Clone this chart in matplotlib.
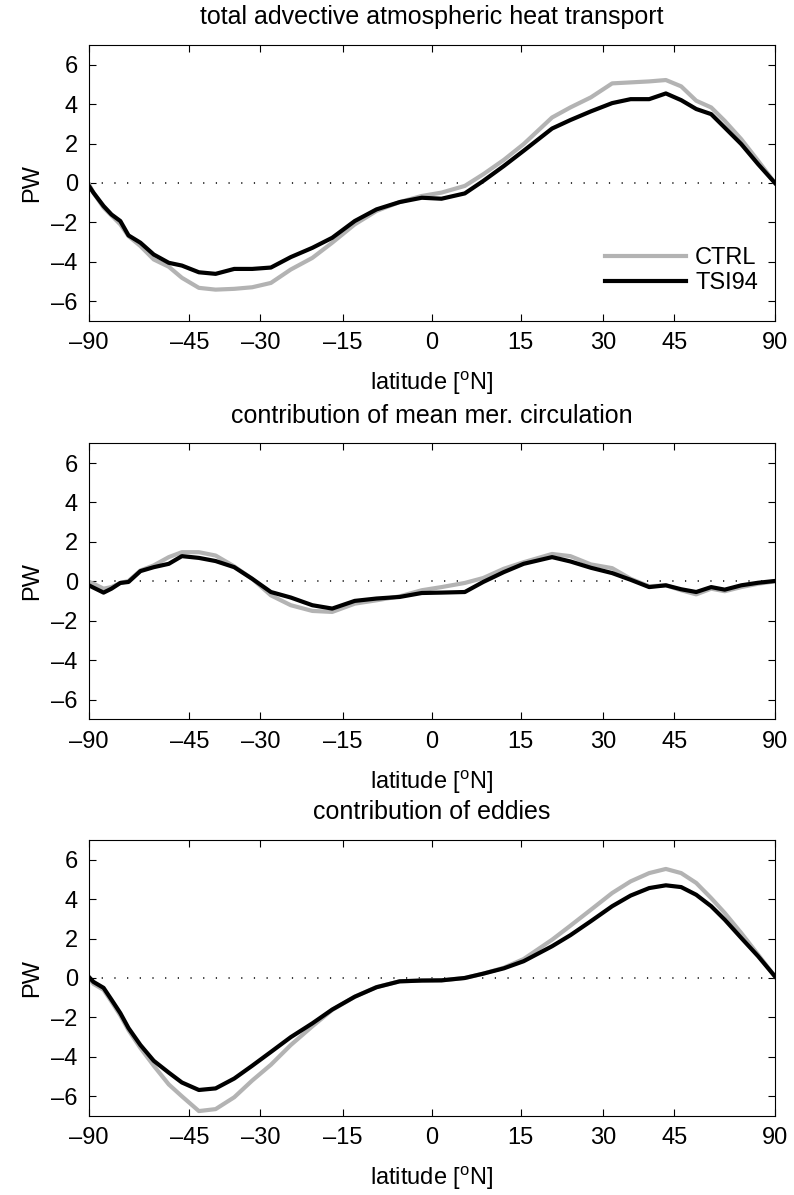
import numpy as np
import matplotlib
matplotlib.use('Agg')
import matplotlib.pyplot as plt

plt.rcParams['font.family'] = ['Liberation Sans', 'DejaVu Sans']
plt.rcParams['mathtext.fontset'] = 'custom'
plt.rcParams['mathtext.rm'] = 'Liberation Sans'
plt.rcParams['font.size'] = 17

# latitude points (deg N)
lat = [-90, -80.6, -73.2, -69.1, -65.3, -62.2, -58.2, -54.2, -50.1, -46.8,
       -42.8, -39.1, -35.2, -31.6, -28.0, -24.3, -20.4, -16.9, -13.0, -9.3,
       -5.4, -1.7, 1.6, 5.5, 8.6, 12.1, 15.5, 20.5, 23.8, 27.6,
       31.7, 35.4, 39.3, 43.0, 46.6, 50.4, 54.5, 58.6, 64.4, 72.0, 90]

# total advective heat transport (PW)
total_ctrl = [-0.07, -0.5, -1.25, -1.65, -2.1, -2.7, -3.2, -3.88, -4.25, -4.81,
              -5.32, -5.41, -5.37, -5.29, -5.07, -4.39, -3.8, -3.03, -2.1, -1.42,
              -0.97, -0.66, -0.49, -0.15, 0.44, 1.17, 1.97, 3.32, 3.83, 4.34,
              5.05, 5.10, 5.15, 5.22, 4.9, 4.17, 3.83, 3.15, 2.22, 1.12, 0.0]
total_tsi = [-0.15, -0.5, -1.17, -1.6, -1.93, -2.66, -3.03, -3.63, -4.05, -4.19,
             -4.53, -4.61, -4.36, -4.36, -4.29, -3.76, -3.29, -2.78, -1.93, -1.34,
             -0.97, -0.75, -0.80, -0.53, 0.1, 0.86, 1.63, 2.76, 3.19, 3.63,
             4.05, 4.25, 4.25, 4.54, 4.2, 3.75, 3.49, 2.81, 1.97, 0.95, 0.0]

# mean meridional circulation
mmc_ctrl = [-0.03, -0.12, -0.37, -0.29, -0.08, 0.02, 0.55, 0.81, 1.23, 1.48,
            1.48, 1.31, 0.76, 0.13, -0.71, -1.21, -1.5, -1.55, -1.13, -0.96,
            -0.76, -0.45, -0.29, -0.08, 0.17, 0.64, 0.97, 1.39, 1.28, 0.86,
            0.67, 0.13, -0.25, -0.2, -0.45, -0.66, -0.37, -0.5, -0.29, -0.12, 0.0]
mmc_tsi = [-0.2, -0.32, -0.57, -0.37, -0.08, -0.03, 0.52, 0.72, 0.89, 1.28,
           1.19, 1.03, 0.72, 0.13, -0.54, -0.82, -1.21, -1.38, -0.99, -0.87,
           -0.79, -0.59, -0.57, -0.54, -0.03, 0.47, 0.89, 1.23, 1.01, 0.69,
           0.42, 0.08, -0.29, -0.2, -0.4, -0.54, -0.29, -0.42, -0.2, -0.07, 0.02]

# eddies
eddy_ctrl = [0.0, -0.3, -0.6, -1.2, -1.9, -2.65, -3.55, -4.45, -5.4, -6.0,
             -6.75, -6.65, -6.05, -5.2, -4.4, -3.4, -2.45, -1.62, -0.95, -0.46,
             -0.17, -0.13, -0.12, 0.0, 0.22, 0.52, 0.96, 1.94, 2.65, 3.46,
             4.31, 4.9, 5.32, 5.53, 5.32, 4.82, 4.05, 3.3, 2.28, 1.18, 0.08]
eddy_tsi = [0.05, -0.2, -0.5, -1.1, -1.78, -2.54, -3.4, -4.2, -4.8, -5.3,
            -5.68, -5.6, -5.1, -4.45, -3.75, -3.0, -2.3, -1.6, -0.95, -0.47,
            -0.17, -0.13, -0.12, 0.0, 0.22, 0.49, 0.85, 1.61, 2.17, 2.88,
            3.64, 4.18, 4.56, 4.7, 4.61, 4.22, 3.64, 2.96, 2.03, 1.1, 0.08]

titles = ['total advective atmospheric heat transport',
          'contribution of mean mer. circulation',
          'contribution of eddies']
xticks = [-90, -45, -30, -15, 0, 15, 30, 45, 90]
yticks = [-6, -4, -2, 0, 2, 4, 6]


def fwd(x):
    return np.sin(np.deg2rad(x))


def inv(y):
    return np.rad2deg(np.arcsin(np.clip(y, -1, 1)))


fig = plt.figure(figsize=(7.94, 11.95), dpi=100)
bottoms = [0.7314, 0.398, 0.0661]
panels = [(total_ctrl, total_tsi), (mmc_ctrl, mmc_tsi), (eddy_ctrl, eddy_tsi)]

for i, (ctrl, tsi) in enumerate(panels):
    ax = fig.add_axes([0.112, bottoms[i], 0.864, 0.231])
    ax.set_xscale('function', functions=(fwd, inv))
    ax.axhline(0, color='k', lw=1.1, linestyle=(0, (0.8, 7.5)), zorder=1)
    ax.plot(lat, ctrl, color='#b3b3b3', lw=3, label='CTRL', zorder=2)
    ax.plot(lat, tsi, color='k', lw=3, label='TSI94', zorder=3)
    ax.set_xlim(-90, 90)
    ax.set_ylim(-7, 7)
    ax.set_xticks(xticks)
    ax.set_xticklabels([str(t).replace('-', '\u2013') for t in xticks])
    ax.set_yticks(yticks)
    ax.set_yticklabels([str(t).replace('-', '\u2013') for t in yticks])
    ax.xaxis.set_minor_locator(matplotlib.ticker.NullLocator())
    ax.tick_params(direction='in', length=5, width=0.8, top=True, right=True, pad=8)
    for s in ax.spines.values():
        s.set_linewidth(0.8)
    ax.set_title(titles[i], fontsize=18, pad=15)
    ax.set_xlabel(r'latitude [$^\mathrm{o}$N]', labelpad=11)
    ax.set_ylabel('PW', labelpad=6)
    if i == 0:
        ax.legend(loc='lower right', bbox_to_anchor=(1.015, 0.0), frameon=False,
                  handlelength=3.4, borderaxespad=0.75, labelspacing=0.1,
                  handletextpad=0.4)

fig.savefig('out.png', dpi=100)
